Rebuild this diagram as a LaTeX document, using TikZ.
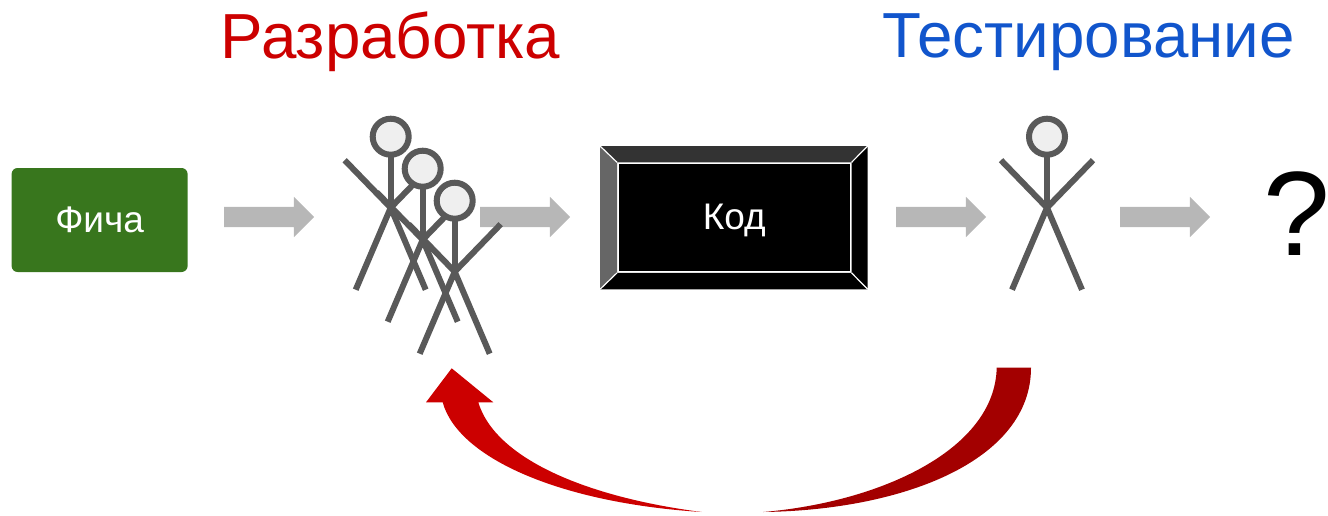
\documentclass[tikz,border=0pt]{standalone}
\usepackage{fontspec}
\setmainfont{Liberation Sans}
\usetikzlibrary{shapes.arrows}
\definecolor{featureGreen}{HTML}{38761D}
\definecolor{devRed}{HTML}{CC0000}
\definecolor{testBlue}{HTML}{1155CC}
\definecolor{returnDark}{HTML}{A30000}
\definecolor{blockGray}{HTML}{B7B7B7}
\definecolor{manGray}{HTML}{595959}
\definecolor{headGray}{HTML}{EFEFEF}
\tikzstyle{feature} = [rectangle, rounded corners=6pt, minimum width=176pt, minimum height=104pt, text=white, fill=featureGreen, font=\fontsize{37}{44}\selectfont]
\tikzstyle{code} = [rectangle, minimum width=233pt, minimum height=109pt, text=white, fill=black, draw=white, line width=1.5pt, font=\fontsize{37}{44}\selectfont]
\tikzstyle{title} = [font=\fontsize{63.7}{76}\selectfont]
\tikzstyle{blockArrow} = [single arrow, single arrow head extend=10pt, single arrow head indent=0pt, minimum width=40pt, minimum height=90pt, inner sep=10pt, fill=blockGray]
\tikzstyle{limb} = [draw=manGray, line width=6pt]
\tikzstyle{head} = [circle, minimum size=36pt, inner sep=0pt, draw=manGray, line width=6pt, fill=headGray]
\newcommand{\stickman}[2]{
	\draw [limb] (#1,#2) -- (#1,#2+71);
	\draw [limb] (#1-46,#2+23.5) -- (#1,#2+71) -- (#1+46,#2+23.5);
	\draw [limb] (#1-35,#2+153) -- (#1,#2+71) -- (#1+35,#2+153);
	\node [head] at (#1,#2) {};
}
\begin{document}
\begin{tikzpicture}[x=1pt,y=-1pt,node distance=256pt]
	\useasboundingbox (0,0) rectangle (1328,515);

	\node (titleDev) [title, text=devRed] at (390.5,42) {Разработка};
	\node (titleTest) [title, text=testBlue] at (1088.5,42) {Тестирование};

	\node (feature) [feature] at (99.6,220) {Фича};
	\node (arrowFeature) [blockArrow] at (264,217) {};
	\node (arrowDev) [blockArrow, right of=arrowFeature] {};
	\node (code) [code] at (734.3,217.6) {};
	\node (arrowCode) [blockArrow, right of=arrowDev, node distance=416pt] {};
	\node (arrowTest) [blockArrow, right of=arrowCode, node distance=224pt] {};
	\node (unknown) [right of=arrowTest, node distance=137pt, yshift=3pt, font=\fontsize{120}{130}\selectfont] {?};

	\fill [black!80] (600,146) -- (867.7,146) -- (code.north east) -- (code.north west) -- cycle;
	\fill [black!60] (600,146) -- (600,289.3) -- (code.south west) -- (code.north west) -- cycle;
	\fill [black] (867.7,146) -- (867.7,289.3) -- (code.south east) -- (code.north east) -- cycle;
	\fill [black] (600,289.3) -- (867.7,289.3) -- (code.south east) -- (code.south west) -- cycle;
	\draw [white, line width=1.2pt] (600,146) -- (code.north west) (867.7,146) -- (code.north east) (600,289.3) -- (code.south west) (867.7,289.3) -- (code.south east);
	\node (codeText) [text=white, font=\fontsize{37}{44}\selectfont] at (734.3,220) {Код};

	\foreach \offset in {0,32,64} {
		\stickman{390.7+\offset}{136.7+\offset}
	}
	\stickman{1047}{136.7}

	\fill [returnDark] (1031,367.7) .. controls (1031,460) and (905,510) .. (763.3,512) .. controls (880,502) and (995,450) .. (996.7,367.7) -- cycle;
	\fill [devRed] (701.7,512) .. controls (560,503) and (458,458) .. (442.7,402.3) -- (426,402.3) -- (451.7,368.3) -- (493.3,402.3) -- (478.3,402.3) .. controls (495,458) and (585,497) .. (701.7,512) -- cycle;
\end{tikzpicture}
\end{document}
